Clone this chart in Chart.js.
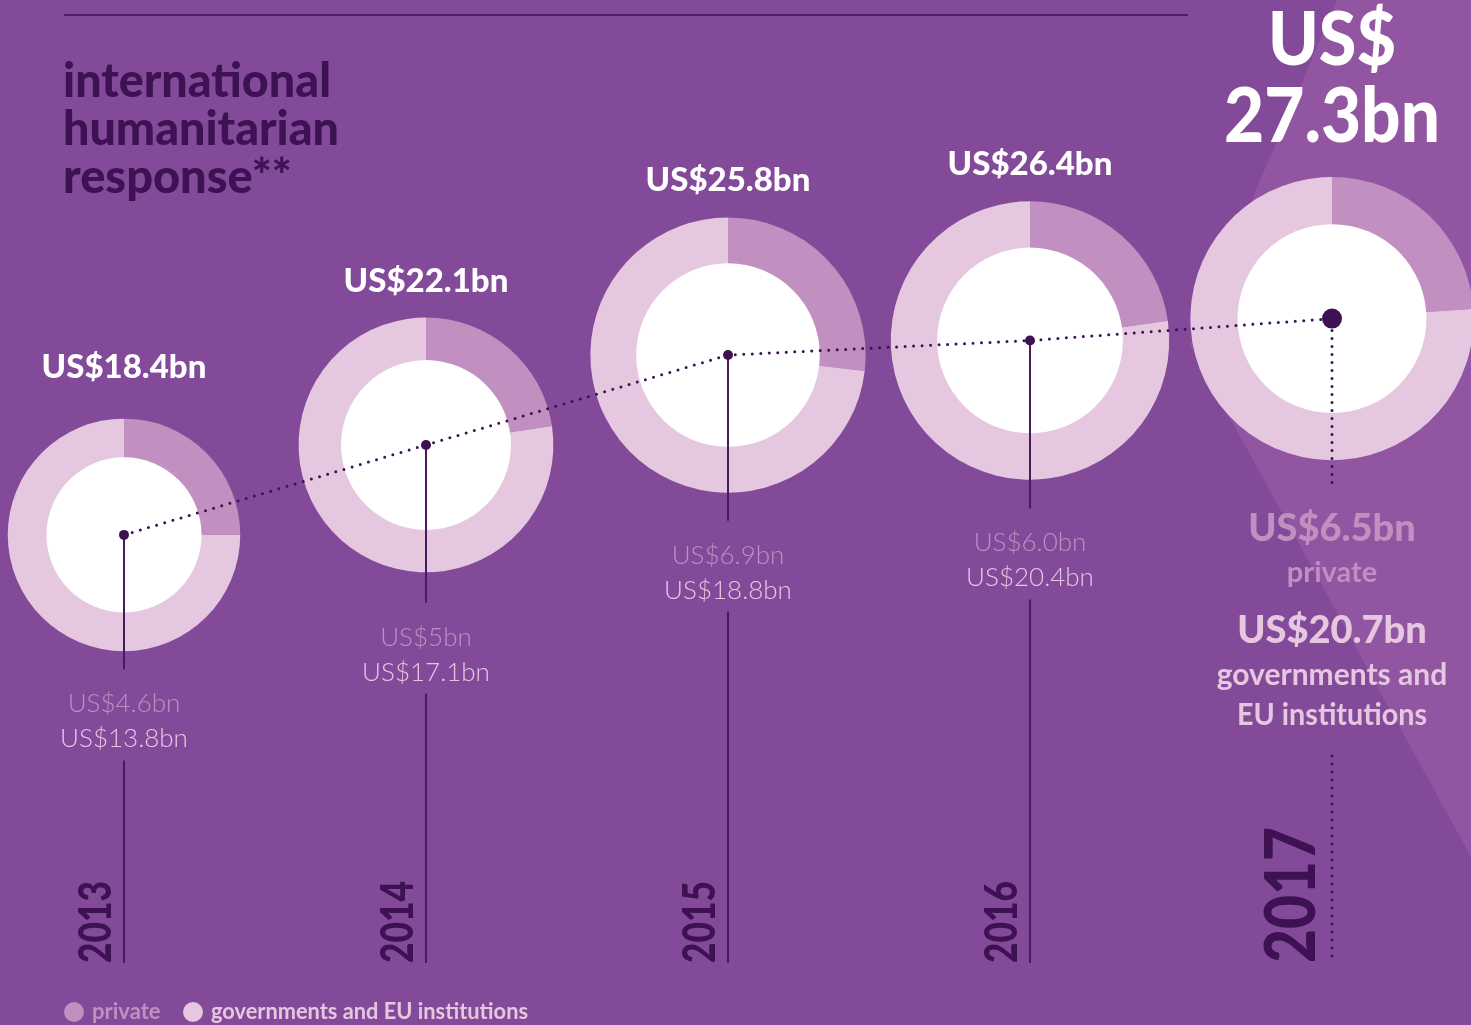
<!DOCTYPE html>
<html>
<head>
<meta charset="utf-8">
<script src="https://cdn.jsdelivr.net/npm/chart.js@4/dist/chart.umd.min.js"></script>
<style>
  html, body { margin: 0; padding: 0; background: #834a9a; }
  canvas { display: block; }
</style>
</head>
<body>
<canvas id="responseChart" width="1471" height="1025"></canvas>
<script>
// ---------------------------------------------------------------- data
const years = ['2013', '2014', '2015', '2016', '2017']
const totalText = ['18.4', '22.1', '25.8', '26.4', '27.3']
const privateText = ['4.6', '5', '6.9', '6.0', '6.5']
const govText = ['13.8', '17.1', '18.8', '20.4', '20.7']

const totals = totalText.map(Number)
const privateFunds = privateText.map(Number)
const govFunds = govText.map(Number)

// ---------------------------------------------------------------- colours
const bg = '#834a9a'
const bgLight = '#9155a1'
const dark = '#3d1152'
const pink = '#c18fc0'
const pale = '#e6c7e0'

const RADIUS_K = 27.1      // ring area follows the total
const CUTOUT = 0.667
const AXIS_Y = 963
// small per-year nudges for the text around each ring
const headLift = [15, 0, 0, 0]
const labelDrop = [0, 7, 0, 0]

function dottedLine(ctx, x, y1, y2) {
    ctx.save()
    ctx.strokeStyle = dark
    ctx.lineWidth = 3
    ctx.lineCap = 'round'
    ctx.setLineDash([0, 8])
    ctx.beginPath()
    ctx.moveTo(x, y1)
    ctx.lineTo(x, y2)
    ctx.stroke()
    ctx.restore()
}

function solidLine(ctx, x, y1, y2) {
    ctx.save()
    ctx.strokeStyle = '#4a1a60'
    ctx.lineWidth = 2
    ctx.beginPath()
    ctx.moveTo(x, y1)
    ctx.lineTo(x, y2)
    ctx.stroke()
    ctx.restore()
}

function centerText(ctx, text, x, y, font, color, maxWidth) {
    ctx.font = font
    ctx.fillStyle = color
    ctx.textAlign = 'center'
    ctx.textBaseline = 'alphabetic'
    if (maxWidth) ctx.fillText(text, x, y, maxWidth)
    else ctx.fillText(text, x, y)
}

function yearLabel(ctx, text, x, font, maxWidth) {
    ctx.save()
    ctx.translate(x, AXIS_Y)
    ctx.rotate(-Math.PI / 2)
    ctx.font = font
    ctx.fillStyle = dark
    ctx.textAlign = 'left'
    ctx.textBaseline = 'alphabetic'
    ctx.fillText(text, 0, 0, maxWidth)
    ctx.restore()
}

// ---------------------------------------------------------------- backdrop, title, legend
const backdrop = {
    id: 'backdrop',
    beforeDraw(chart) {
        const ctx = chart.ctx
        const w = chart.width
        ctx.save()
        ctx.fillStyle = bg
        ctx.fillRect(0, 0, w, chart.height)

        // lighter wedge on the right
        ctx.fillStyle = bgLight
        ctx.beginPath()
        ctx.moveTo(1337, 0)
        ctx.lineTo(w, 0)
        ctx.lineTo(w, 857)
        ctx.lineTo(1190, 345)
        ctx.closePath()
        ctx.fill()

        // top rule
        ctx.strokeStyle = '#52186a'
        ctx.lineWidth = 2
        ctx.beginPath()
        ctx.moveTo(64, 15)
        ctx.lineTo(1188, 15)
        ctx.stroke()

        // title
        ctx.fillStyle = dark
        ctx.textAlign = 'left'
        ctx.textBaseline = 'alphabetic'
        ctx.font = '900 47px Lato'
        ctx.fillText('international', 63, 97, 268)
        ctx.fillText('humanitarian', 63, 145, 276)
        ctx.fillText('response**', 63, 193, 233)

        // legend
        ctx.font = 'bold 22px Lato'
        ctx.fillStyle = pink
        ctx.beginPath()
        ctx.arc(74, 1012, 10, 0, Math.PI * 2)
        ctx.fill()
        ctx.fillText('private', 92, 1019)
        ctx.fillStyle = pale
        ctx.beginPath()
        ctx.arc(193, 1012, 10, 0, Math.PI * 2)
        ctx.fill()
        ctx.fillText('governments and EU institutions', 211, 1019, 317)
        ctx.restore()
    }
}

// ---------------------------------------------------------------- rings, stems and labels
const rings = {
    id: 'rings',
    beforeDatasetsDraw(chart) {
        const ctx = chart.ctx
        const points = chart.getDatasetMeta(0).data
        const last = points.length - 1

        points.forEach((pt, i) => {
            const cx = pt.x
            const cy = pt.y
            const r = RADIUS_K * Math.sqrt(totals[i])
            const frac = privateFunds[i] / (privateFunds[i] + govFunds[i])
            const start = -Math.PI / 2
            const mid = start + frac * Math.PI * 2

            ctx.save()
            ctx.fillStyle = pink
            ctx.beginPath()
            ctx.moveTo(cx, cy)
            ctx.arc(cx, cy, r, start, mid)
            ctx.closePath()
            ctx.fill()

            ctx.fillStyle = pale
            ctx.beginPath()
            ctx.moveTo(cx, cy)
            ctx.arc(cx, cy, r, mid, start + Math.PI * 2)
            ctx.closePath()
            ctx.fill()

            ctx.fillStyle = '#ffffff'
            ctx.beginPath()
            ctx.arc(cx, cy, r * CUTOUT, 0, Math.PI * 2)
            ctx.fill()
            ctx.restore()

            if (i === last) {
                // the latest year gets the big headline and spelled-out labels
                centerText(ctx, 'US$', cx, 65, '900 74px Lato', '#ffffff', 128)
                centerText(ctx, totalText[i] + 'bn', cx, 142, '900 76px Lato', '#ffffff', 216)
                dottedLine(ctx, cx, cy + 12, 490)
                centerText(ctx, 'US$' + privateText[i] + 'bn', cx, 541, '900 38px Lato', pink, 172)
                centerText(ctx, 'private', cx, 582, 'bold 29px Lato', pink, 95)
                centerText(ctx, 'US$' + govText[i] + 'bn', cx, 643, '900 38px Lato', pale, 196)
                centerText(ctx, 'governments and', cx, 685, 'bold 30px Lato', pale, 238)
                centerText(ctx, 'EU institutions', cx, 725, 'bold 30px Lato', pale, 190)
                dottedLine(ctx, cx, 756, 958)
                yearLabel(ctx, years[i], cx - 17, '900 70px Lato', 136)
            } else {
                centerText(ctx, 'US$' + totalText[i] + 'bn', cx, cy - r - 26 - headLift[i], '900 33px Lato', '#ffffff', 167)
                const privY = cy + 1.45 * r + labelDrop[i]
                solidLine(ctx, cx, cy, privY - 34)
                centerText(ctx, 'US$' + privateText[i] + 'bn', cx, privY + 9, '300 26px Lato', pink)
                centerText(ctx, 'US$' + govText[i] + 'bn', cx, privY + 44, '300 26px Lato', pale)
                solidLine(ctx, cx, privY + 57, AXIS_Y)
                yearLabel(ctx, years[i], cx - 13, '900 45px Lato', 82)
            }
        })
    }
}

// ---------------------------------------------------------------- chart
const config = {
    type: 'line',
    data: {
        labels: years,
        datasets: [{
            label: 'international humanitarian response',
            data: totals,
            borderColor: dark,
            borderWidth: 3,
            borderDash: [0, 8.5],
            borderCapStyle: 'round',
            tension: 0,
            fill: false,
            pointRadius: [5, 5, 5, 5, 10],
            pointBackgroundColor: dark,
            pointBorderWidth: 0,
            clip: false
        }]
    },
    options: {
        responsive: false,
        animation: false,
        layout: {
            padding: { left: 124, right: 139, top: 10, bottom: 43 }
        },
        plugins: {
            legend: { display: false },
            tooltip: { enabled: false }
        },
        scales: {
            x: { type: 'category', offset: false, display: false },
            y: { min: 0, max: 40, display: false }
        }
    },
    plugins: [backdrop, rings]
}

let responseChart = new Chart(document.getElementById('responseChart'), config)
</script>
</body>
</html>
